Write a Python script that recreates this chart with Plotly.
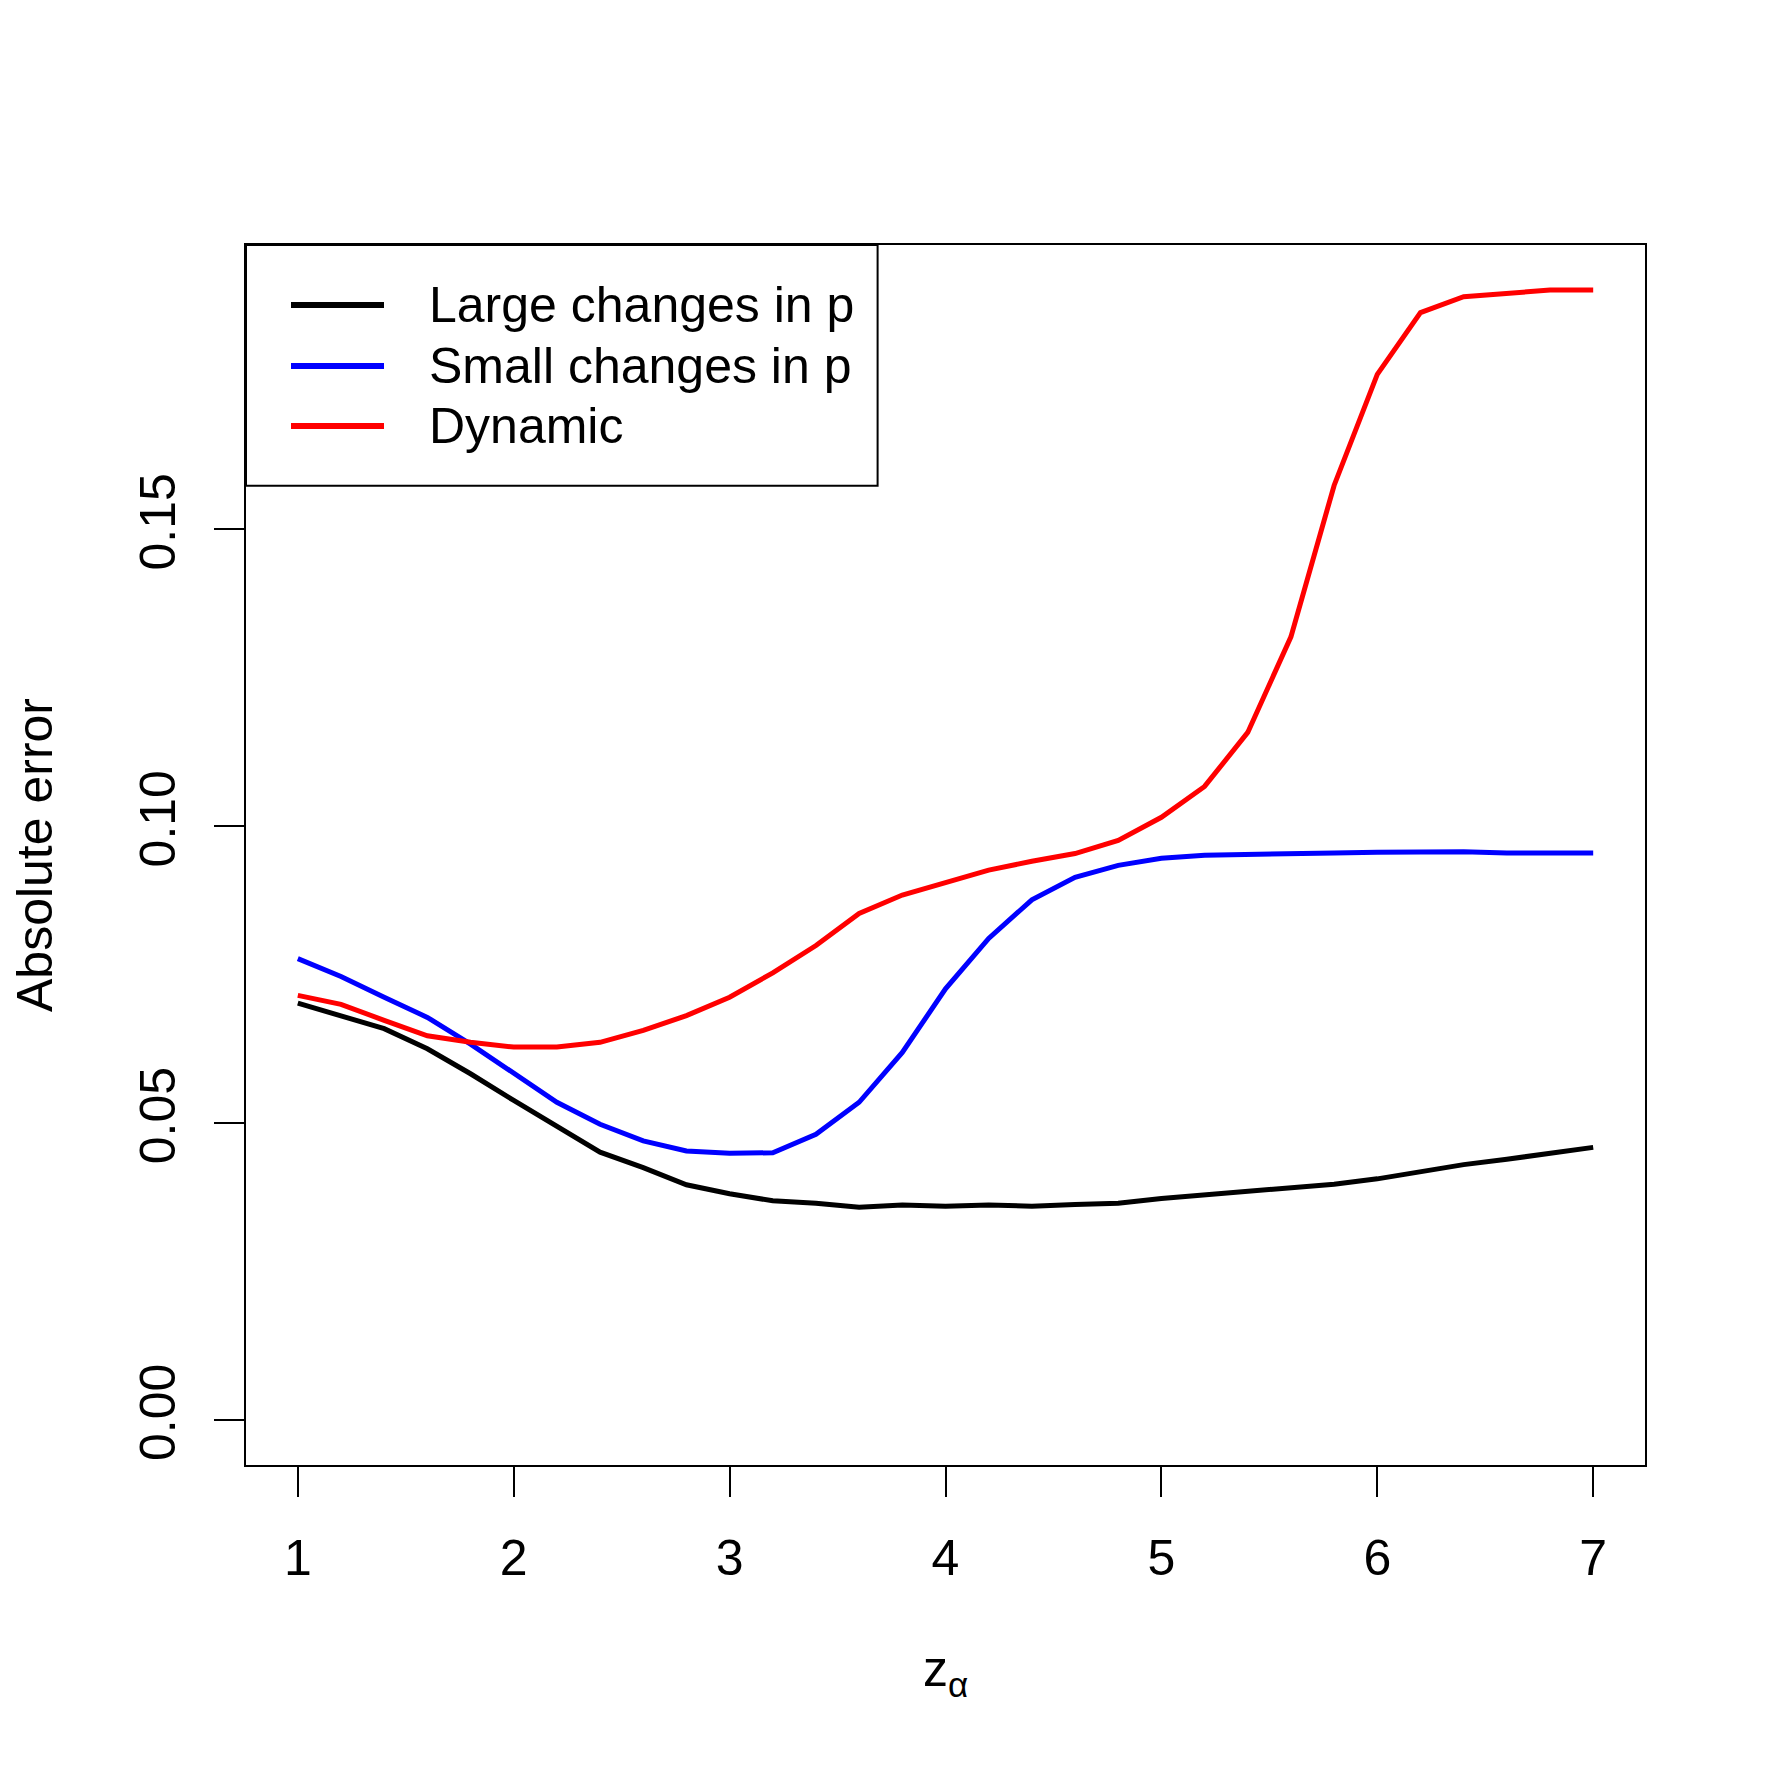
import plotly.graph_objects as go

z_alpha = [1.0, 1.2, 1.4, 1.6, 1.8, 2.0, 2.2, 2.4, 2.6, 2.8, 3.0, 3.2, 3.4, 3.6, 3.8,
           4.0, 4.2, 4.4, 4.6, 4.8, 5.0, 5.2, 5.4, 5.6, 5.8, 6.0, 6.2, 6.4, 6.6, 6.8, 7.0]

large_changes = [0.0702, 0.0681, 0.0659, 0.0625, 0.0583, 0.0538, 0.0494, 0.0451, 0.0425, 0.0396,
                 0.0381, 0.0369, 0.0365, 0.0358, 0.0362, 0.0360, 0.0362, 0.0360, 0.0363, 0.0365,
                 0.0373, 0.0379, 0.0386, 0.0393, 0.0397, 0.0406, 0.0419, 0.0430, 0.0439, 0.0449,
                 0.0459]

small_changes = [0.0777, 0.0747, 0.0712, 0.0678, 0.0633, 0.0583, 0.0535, 0.0498, 0.0470, 0.0453,
                 0.0449, 0.0450, 0.0481, 0.0535, 0.0619, 0.0726, 0.0811, 0.0876, 0.0914, 0.0934,
                 0.0946, 0.0951, 0.0953, 0.0954, 0.0955, 0.0956, 0.0957, 0.0957, 0.0955, 0.0955,
                 0.0955]

dynamic = [0.0715, 0.0700, 0.0673, 0.0647, 0.0636, 0.0628, 0.0628, 0.0636, 0.0656, 0.0681,
           0.0712, 0.0753, 0.0799, 0.0853, 0.0884, 0.0906, 0.0926, 0.0941, 0.0954, 0.0976,
           0.1015, 0.1067, 0.1158, 0.1319, 0.1574, 0.1761, 0.1865, 0.1892, 0.1898, 0.1903,
           0.1903]

series_names = ["Large changes in p", "Small changes in p", "Dynamic"]
series_colors = ["#000000", "#0000FF", "#FF0000"]
x_ticks = [1, 2, 3, 4, 5, 6, 7]
y_ticks = [0.00, 0.05, 0.10, 0.15]
y_tick_labels = ["0.00", "0.05", "0.10", "0.15"]

W = H = 1771
ML, MR, MT, MB = 246, 126, 245, 306
PW = W - ML - MR
PH = H - MT - MB
FONT = "Liberation Sans, Arial, sans-serif"
FS = 50

fig = go.Figure()
for name, ys, col in zip(series_names, [large_changes, small_changes, dynamic], series_colors):
    fig.add_trace(go.Scatter(x=z_alpha, y=ys, mode="lines", name=name,
                             line=dict(color=col, width=5), showlegend=False))

def px_x(p):
    return (p - ML) / PW

def px_y(p):
    return 1 - (p - MT) / PH

shapes = [dict(type="rect", xref="paper", yref="paper", x0=0, y0=px_y(485.7), x1=px_x(877.6), y1=1,
               line=dict(color="black", width=2), fillcolor="rgba(0,0,0,0)")]
annotations = []
legend_y = [305, 366, 426]
for name, col, ly in zip(series_names, series_colors, legend_y):
    shapes.append(dict(type="line", xref="paper", yref="paper", x0=px_x(291), x1=px_x(384),
                       y0=px_y(ly), y1=px_y(ly), line=dict(color=col, width=6)))
    annotations.append(dict(xref="paper", yref="paper", x=px_x(427), y=px_y(ly), text=name,
                            showarrow=False, xanchor="left", yanchor="middle",
                            font=dict(family=FONT, size=FS, color="black")))

fig.update_layout(
    width=W, height=H,
    margin=dict(l=ML, r=MR, t=MT, b=MB, pad=0),
    paper_bgcolor="white", plot_bgcolor="white",
    font=dict(family=FONT, size=FS, color="black"),
    shapes=shapes, annotations=annotations,
    xaxis=dict(range=[0.76, 7.24], tickvals=x_ticks, ticktext=[str(t) for t in x_ticks],
               ticks="outside", ticklen=30, tickwidth=2, tickcolor="black",
               ticklabelstandoff=18,
               showline=True, linecolor="black", linewidth=2, mirror=True,
               showgrid=False, zeroline=False,
               tickfont=dict(family=FONT, size=FS),
               title=dict(text="z<sub>α</sub>", font=dict(family=FONT, size=FS), standoff=66)),
    yaxis=dict(range=[-0.0076, 0.1979], tickvals=y_ticks, ticktext=y_tick_labels,
               ticks="outside", ticklen=30, tickwidth=2, tickcolor="black", tickangle=-90,
               ticklabelstandoff=19,
               showline=True, linecolor="black", linewidth=2, mirror=True,
               showgrid=False, zeroline=False,
               tickfont=dict(family=FONT, size=FS),
               title=dict(text="Absolute error", font=dict(family=FONT, size=FS), standoff=62)),
)

fig.write_html("out.html")
